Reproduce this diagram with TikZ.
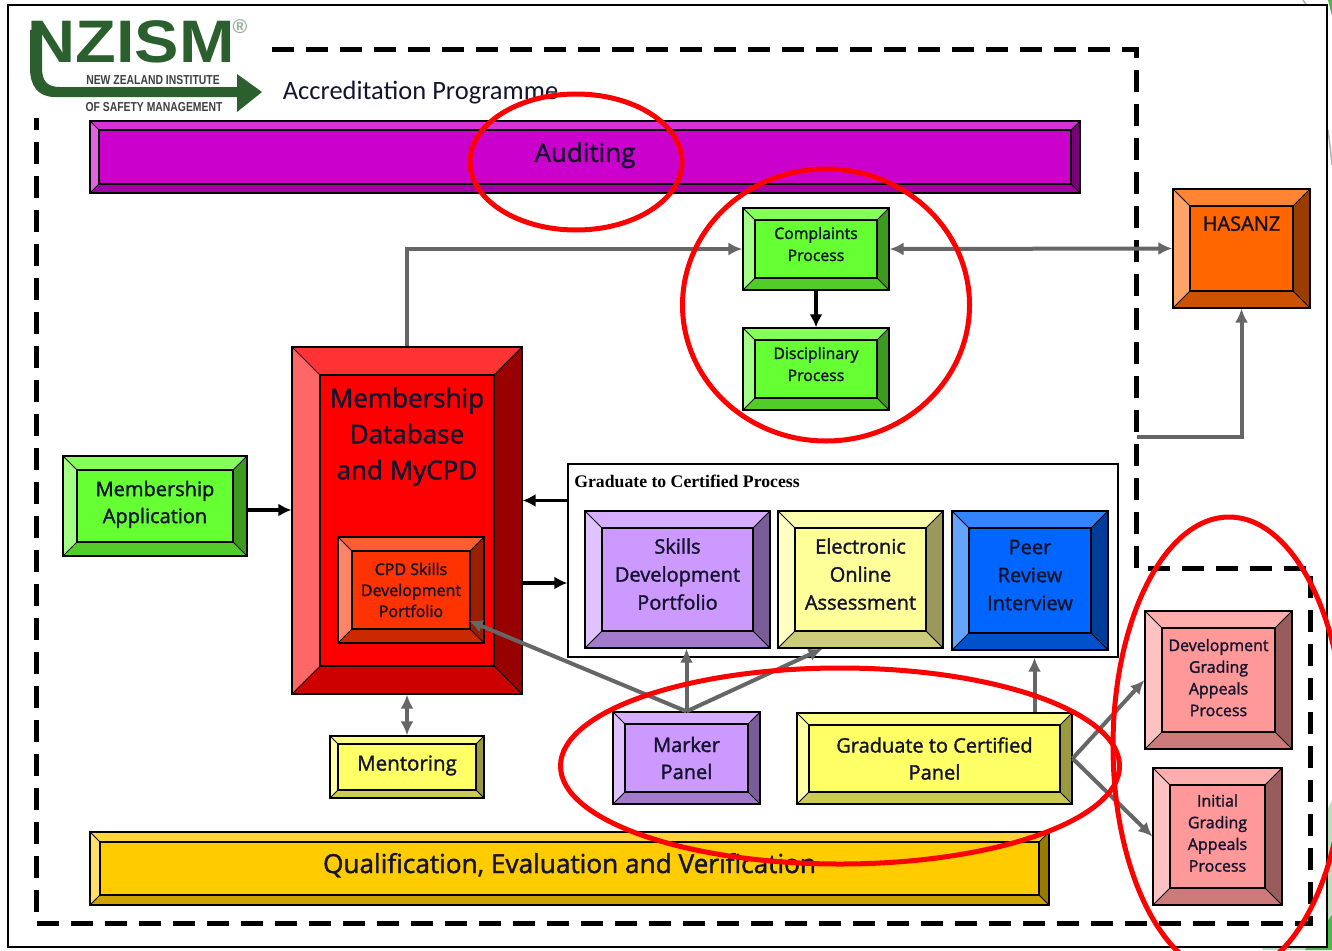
\documentclass[tikz,border=0pt]{standalone}
\usepackage{fontspec}
\setmainfont{Open Sans}[FakeBold=1.6]
\newfontfamily\titlefont{Carlito}
\newfontfamily\serifhead{Liberation Serif}
\newfontfamily\logofont{Liberation Sans}
\usetikzlibrary{arrows.meta,shapes.geometric}
\definecolor{inkblue}{HTML}{14142E}
\definecolor{logogreen}{HTML}{2B5F2E}
\definecolor{arrowgray}{HTML}{666666}
\definecolor{boxmagenta}{HTML}{CC00CC}
\definecolor{boxgold}{HTML}{FFCC00}
\definecolor{boxgreen}{HTML}{66FF33}
\definecolor{boxorange}{HTML}{FF6600}
\definecolor{boxred}{HTML}{FF0000}
\definecolor{boxcpd}{HTML}{FF3300}
\definecolor{boxyellow}{HTML}{FFFF66}
\definecolor{boxpale}{HTML}{FFFF99}
\definecolor{boxviolet}{HTML}{CC99FF}
\definecolor{boxblue}{HTML}{0066FF}
\definecolor{boxpink}{HTML}{FF9999}
\newcommand{\lift}[1]{\rule[-#1]{0pt}{0pt}}
\begin{document}
\begin{tikzpicture}[x=1pt,y=-1pt,
    bevel/.style n args={4}{draw=black,line width=1.2pt,rectangle,align=center,
      minimum width=#2,minimum height=#3,text=inkblue,inner sep=0pt,fill=#1,
      path picture={
        \coordinate (p) at (path picture bounding box.north west);
        \coordinate (q) at (path picture bounding box.south east);
        \fill[#1!80!white] (p) -- (p -| q) -- ++(-#4,#4) -- ([shift={(#4,#4)}]p) -- cycle;
        \fill[#1!60!white] (p) -- (p |- q) -- ++(#4,-#4) -- ([shift={(#4,#4)}]p) -- cycle;
        \fill[#1!80!black] (q) -- (p |- q) -- ++(#4,-#4) -- ([shift={(-#4,-#4)}]q) -- cycle;
        \fill[#1!60!black] (q) -- (p -| q) -- ++(-#4,#4) -- ([shift={(-#4,-#4)}]q) -- cycle;
        \draw[black,line width=1.2pt] ([shift={(#4,#4)}]p) rectangle ([shift={(-#4,-#4)}]q);
        \draw[black,line width=.8pt] (p) -- ++(#4,#4) (q) -- ++(-#4,-#4)
          (p -| q) -- ++(-#4,#4) (p |- q) -- ++(#4,-#4);
      }},
    grayhead/.tip={Latex[length=14pt,width=13pt]},
    linkgray/.style={-grayhead,draw=arrowgray,line width=4pt},
    linkblack/.style={-{Latex[length=13pt,width=13pt]},draw=black,line width=3.5pt},
    ring/.style={ellipse,draw=red,line width=5pt,inner sep=0pt}]

    \useasboundingbox (0,0) rectangle (1332,950);
    \clip (0,0) rectangle (1332,950);
    \fill[white] (0,0) rectangle (1332,950);

    % the green of the page behind

    \fill[green!45!black!25!white] (1262,950) -- (1332,800) -- (1332,950) -- cycle;
    \fill[green!60!black!70!white] (1305,950) -- (1332,915) -- (1332,950) -- cycle;
    \fill[green!60!black!70!white] (1328,0) -- (1332,0) -- (1332,16) -- cycle;
    \draw[black!30,line width=1.5pt] (1303,0) -- (1307,6) (1328,130) .. controls (1330,145) and (1331,155) .. (1332,165);

    % the page edge and the dashed programme outline

    \draw[line width=1.6pt,fill=white] (8,5) rectangle (1327,947);
    \draw[line width=5pt,dash pattern=on 22pt off 12pt,line join=miter]
    (272,50) -- (1136,50) -- (1136,568) -- (1310,568) -- (1310,923) --
    (36,923) -- (36,118);

    % the logo

    \fill[logogreen] (30,30) -- (42,30) -- (42,68) .. controls (42,82) and (48,87) .. (60,87)
    -- (237,87) -- (237,74) -- (262,92) -- (237,112) -- (237,97) -- (55,97)
    .. controls (38,97) and (30,86) .. (30,68) -- cycle;
    \node[text=logogreen,inner sep=0pt,font=\logofont\bfseries\fontsize{60}{60}\selectfont,
      xscale=1.11] (nzism) at (131,42) {NZISM};
    \node[text=logogreen!50!white,inner sep=0pt,font=\logofont\bfseries\fontsize{20}{20}\selectfont]
    (reg) at (240,27) {®};
    \node[text=black!75,inner sep=0pt,font=\logofont\bfseries\fontsize{13}{13}\selectfont,
      xscale=.8] (nzi) at (153,80) {NEW ZEALAND INSTITUTE};
    \node[text=black!75,inner sep=0pt,font=\logofont\bfseries\fontsize{13}{13}\selectfont,
      xscale=.8] (osm) at (154,107) {OF SAFETY MANAGEMENT};
    \node[text=inkblue,font=\titlefont\fontsize{26.5}{26}\selectfont,inner sep=0pt]
    (title) at (420.5,93) {Accreditation Programme};

    % the boxes

    \node[bevel={boxmagenta}{990}{72}{9},font=\fontsize{26}{25}\selectfont] (auditing) at (585,157) {Auditing\lift{10pt}};
    \node[bevel={boxgold}{959}{73}{10},font=\fontsize{26.2}{25}\selectfont] (qualif) at (569.5,868.5) {Qualification, Evaluation and Verification\lift{11pt}};

    \node[bevel={boxgreen}{146}{82}{12},font=\fontsize{15.8}{22}\selectfont] (complaints) at (816,249) {Complaints\\Process\lift{10pt}};
    \node[bevel={boxgreen}{146}{82}{12},font=\fontsize{15.8}{22}\selectfont] (disciplinary) at (816,369) {Disciplinary\\Process\lift{10pt}};
    \node[bevel={boxorange}{137}{119}{17},font=\fontsize{20}{20}\selectfont] (hasanz) at (1241.5,248.5) {HASANZ\\[30pt]};

    \node[bevel={boxgreen}{184}{100}{14},font=\fontsize{20}{27}\selectfont] (application) at (155,506) {Membership\\Application\lift{8pt}};
    \node[bevel={boxred}{230}{347}{28},font=\fontsize{26}{36}\selectfont] (database) at (407,520.5) {Membership\\Database\\and MyCPD\\[138pt]};
    \node[bevel={boxcpd}{146}{106}{14},font=\fontsize{16}{21}\selectfont] (cpd) at (411,590) {CPD Skills\\Development\\Portfolio};
    \node[bevel={boxyellow}{154}{62}{8},font=\fontsize{20.5}{20}\selectfont] (mentoring) at (407,767) {Mentoring\lift{8pt}};

    \node[draw=black,line width=1.2pt,fill=white,minimum width=550,minimum height=193,inner sep=0pt] (process) at (843,560.5) {};
    \node[inner sep=0pt,font=\serifhead\bfseries\fontsize{17.7}{17}\selectfont] (processtext) at (687,481) {Graduate to Certified Process};

    \node[bevel={boxviolet}{185}{137}{17},font=\fontsize{20}{28}\selectfont] (skills) at (677.5,579.5) {Skills\\Development\\Portfolio\lift{11pt}};
    \node[bevel={boxpale}{165}{137}{17},font=\fontsize{20}{28}\selectfont] (electronic) at (860.5,579.5) {Electronic\\Online\\Assessment\lift{11pt}};
    \node[bevel={boxblue}{156}{139}{17},font=\fontsize{20}{28}\selectfont] (peer) at (1030,580.5) {Peer\\Review\\Interview\lift{11pt}};

    \node[bevel={boxviolet}{147}{92}{12},font=\fontsize{20}{27}\selectfont] (marker) at (686.5,758) {Marker\\Panel};
    \node[bevel={boxyellow}{275}{91}{12},font=\fontsize{20}{27}\selectfont] (panel) at (934.5,758.5) {Graduate to Certified\\Panel};
    \node[bevel={boxpink}{147}{138}{17},font=\fontsize{16}{21.7}\selectfont] (development) at (1218.5,680) {Development\\Grading\\Appeals\\Process\lift{5pt}};
    \node[bevel={boxpink}{129}{137}{17},font=\fontsize{16}{21.7}\selectfont] (initial) at (1217.5,836.5) {Initial\\Grading\\Appeals\\Process\lift{7pt}};

    % the links

    \coordinate (outline) at (1137,437);
    \draw[linkgray] (database.north) |- (complaints.west);
    \draw[linkgray,grayhead-grayhead] (complaints.east) -- (hasanz.west);
    \draw[linkblack] (complaints.south) -- (disciplinary.north);
    \draw[linkgray] (outline) -| (hasanz.south);
    \draw[linkblack] ([yshift=-4pt]application.east) -- ([yshift=-4pt]application.east -| database.west);
    \draw[linkblack] ([yshift=60pt]process.west) -- ([yshift=60pt]process.west -| database.east);
    \draw[linkblack] ([yshift=-62.5pt]database.east) -- ([yshift=-62.5pt]database.east -| process.west);
    \draw[linkgray,grayhead-grayhead] (database.south) -- (mentoring.north);
    \draw[linkgray] (marker.north) -- (marker.north |- skills.south);
    \draw[linkgray] (marker.north) -- ([xshift=-38pt]electronic.south);
    \draw[linkgray] (marker.north) -- ([xshift=-16pt,yshift=23pt]cpd.south east);
    \draw[linkgray] ([xshift=100pt]panel.north) -- ([xshift=100pt]panel.north |- process.south);
    \draw[linkgray] (panel.east) -- (development.west);
    \draw[linkgray] (panel.east) -- (initial.west);

    % the red rings

    \node[ring,minimum width=212,minimum height=136] (ringauditing) at (576,162) {};
    \node[ring,minimum width=287,minimum height=272] (ringcomplaints) at (826,305) {};
    \node[ring,minimum width=559,minimum height=196] (ringpanels) at (840,766) {};
    \node[ring,minimum width=232,minimum height=458] (ringappeals) at (1229,746) {};
  \end{tikzpicture}
\end{document}
